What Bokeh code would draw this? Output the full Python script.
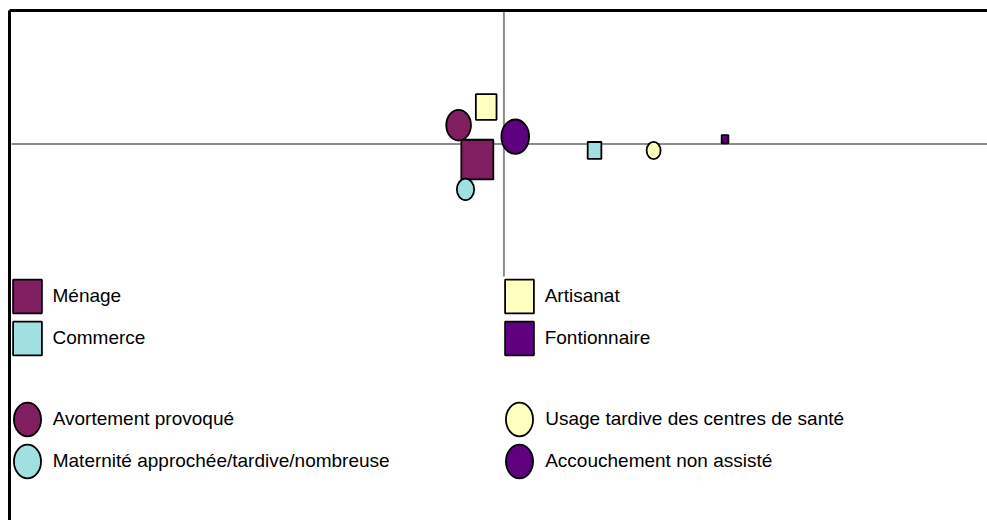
import math
from bokeh.plotting import figure
from bokeh.models import Range1d, Legend, LegendItem, ColumnDataSource, FixedTicker
from bokeh.embed import file_html
from bokeh.resources import INLINE

# ---- data ----
prof_labels = ["Ménage", "Commerce", "Artisanat", "Fontionnaire"]
prof_x = [-0.054, 0.184, -0.036, 0.449]
prof_y = [-0.118, -0.049, 0.279, 0.036]
prof_bubble = [100.0, 18.3, 41.8, 4.4]

risk_labels = ["Avortement provoqué", "Maternité approchée/tardive/nombreuse",
               "Usage tardive des centres de santé", "Accouchement non assisté"]
risk_x = [-0.092, -0.078, 0.304, 0.023]
risk_y = [0.142, -0.343, -0.049, 0.055]
risk_bubble = [59.6, 29.2, 19.1, 74.9]

# ---- style ----
palette = ["#7F1F5F", "#A0E0E0", "#FFFFC0", "#5F007F"]
MAX_DIAM = 32.0      # screen px for the largest bubble
ASPECT = 1.24        # vertical stretch of the picture
X_MIN, X_MAX, Y_MIN, Y_MAX = -1.0, 1.0, -1.0, 1.0   # plot-area limits
FONT = "Liberation Sans"


def dims(vals):
    w = [MAX_DIAM * math.sqrt(v / max(prof_bubble + risk_bubble)) for v in vals]
    return w, [d * ASPECT for d in w]


pw, ph = dims(prof_bubble)
rw, rh = dims(risk_bubble)
src_prof = ColumnDataSource(dict(x=prof_x, y=prof_y, w=pw, h=ph, c=palette, label=prof_labels))
src_risk = ColumnDataSource(dict(x=risk_x, y=risk_y, w=rw, h=rh, c=palette, label=risk_labels))

p = figure(width=987, height=520, output_backend="svg", toolbar_location=None,
           x_range=Range1d(-1.004, 0.982), y_range=Range1d(-2.842, 1.0075),
           x_axis_location="above", y_axis_location="left",
           min_border_left=9, min_border_top=10, min_border_right=0, min_border_bottom=0)
p.grid.visible = False
p.outline_line_color = None
p.background_fill_color = "white"
p.border_fill_color = "white"
for ax in p.axis:
    ax.ticker = FixedTicker(ticks=[])
    ax.major_tick_out = 0
    ax.major_tick_in = 0
    ax.minor_tick_out = 0
    ax.minor_tick_in = 0
    ax.major_tick_line_color = None
    ax.minor_tick_line_color = None
    ax.major_label_standoff = 0
    ax.major_label_text_font_size = "0px"
    ax.axis_line_color = "black"
    ax.axis_line_width = 3

# chart axes crossing at zero
p.segment(x0=[X_MIN, 0], y0=[0, Y_MIN], x1=[X_MAX, 0], y1=[0, Y_MAX],
          line_color="#8C8C8C", line_width=2)

r_rect = p.rect(x="x", y="y", width="w", height="h", width_units="screen", height_units="screen",
                source=src_prof, fill_color="c", line_color="black", line_width=1.8)
r_ell = p.ellipse(x="x", y="y", width="w", height="h", width_units="screen", height_units="screen",
                  source=src_risk, fill_color="c", line_color="black", line_width=1.8)


def make_legend(renderer, labels, idx, loc, gw, standoff):
    leg = Legend(items=[LegendItem(label=labels[i], renderers=[renderer], index=i) for i in idx],
                 location=loc, glyph_width=gw, glyph_height=42, spacing=0,
                 padding=0, margin=0, border_line_color=None, background_fill_alpha=0,
                 label_standoff=standoff, label_text_font=FONT, label_text_font_size="19px",
                 label_text_color="black")
    p.add_layout(leg, "center")


make_legend(r_rect, prof_labels, [0, 1], (-0.5, 161.2), 36, 8)
make_legend(r_rect, prof_labels, [2, 3], (491.7, 161.2), 36, 8)
make_legend(r_ell, risk_labels, [0, 1], (-4.3, 37.8), 44, 4)
make_legend(r_ell, risk_labels, [2, 3], (488.2, 37.8), 44, 4)

open("out.html", "w").write(file_html(p, INLINE))
